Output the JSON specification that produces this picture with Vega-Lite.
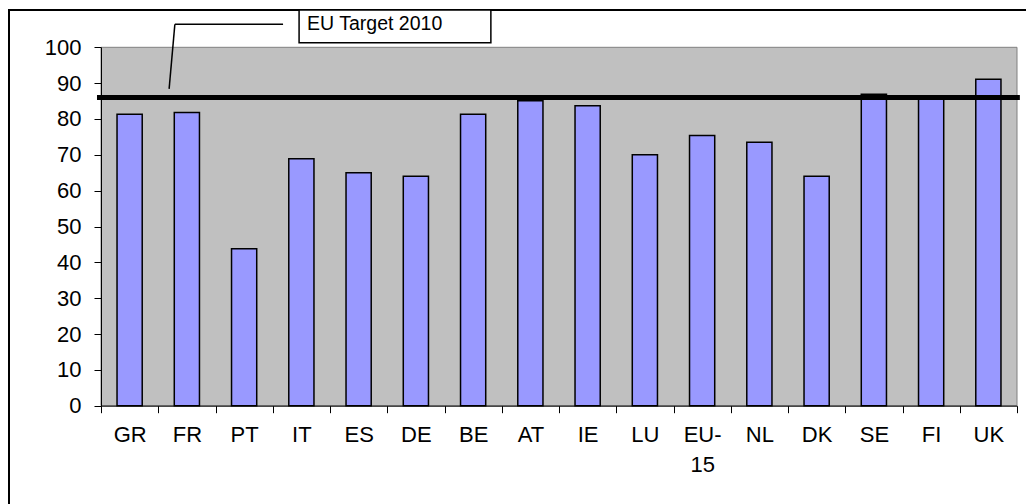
{
  "$schema": "https://vega.github.io/schema/vega-lite/v6.json",
  "autosize": "none",
  "width": 1019,
  "height": 496,
  "padding": {"left": 9, "top": 10, "right": -2, "bottom": -2},
  "background": "white",
  "config": {
    "view": {"stroke": "black", "strokeWidth": 2, "fill": "white"},
    "font": "Liberation Sans"
  },
  "data": {
    "values": [
      {"country": "GR", "value": 81.3},
      {"country": "FR", "value": 81.8},
      {"country": "PT", "value": 43.8},
      {"country": "IT", "value": 68.9},
      {"country": "ES", "value": 65.0},
      {"country": "DE", "value": 64.0},
      {"country": "BE", "value": 81.3},
      {"country": "AT", "value": 85.1},
      {"country": "IE", "value": 83.7},
      {"country": "LU", "value": 70.0},
      {"country": "EU-15", "value": 75.4},
      {"country": "NL", "value": 73.5},
      {"country": "DK", "value": 64.0},
      {"country": "SE", "value": 86.9},
      {"country": "FI", "value": 85.8},
      {"country": "UK", "value": 91.1}
    ]
  },
  "layer": [
    {
      "data": {"values": [{}]},
      "mark": {"type": "rect", "fill": "#C0C0C0", "stroke": "#808080", "strokeWidth": 1},
      "encoding": {
        "x": {"datum": 0, "type": "quantitative", "scale": {"domain": [0, 16], "range": [92, 1008], "nice": false, "zero": false}, "axis": null},
        "x2": {"datum": 16},
        "y": {"datum": 0, "type": "quantitative", "title": null,
              "scale": {"domain": [0, 100], "range": [395.7, 37.3], "nice": false, "zero": false},
              "axis": {"values": [0, 10, 20, 30, 40, 50, 60, 70, 80, 90, 100], "offset": -92, "domainColor": "black", "domainWidth": 1, "tickColor": "black", "tickSize": 7, "labelFontSize": 22, "labelColor": "black", "labelPadding": 13, "grid": false, "title": null, "zindex": 1, "labelFont": "Liberation Sans"}},
        "y2": {"datum": 100}
      }
    },
    {
      "mark": {"type": "bar", "fill": "#9999FF", "stroke": "black", "strokeWidth": 1.5, "width": {"band": 0.44}},
      "encoding": {
        "x": {"field": "country", "type": "nominal", "sort": null, "title": null,
              "scale": {"range": [92, 1008], "paddingInner": 0, "paddingOuter": 0},
              "axis": {"orient": "bottom", "offset": -100.3, "tickBand": "extent", "domainColor": "black", "tickColor": "black", "tickSize": 7, "labelFontSize": 22, "labelColor": "black", "labelAngle": 0, "labelPadding": 12, "labelLineHeight": 30, "labelExpr": "datum.label == 'EU-15' ? ['EU-', '15'] : datum.label", "title": null, "zindex": 1, "labelFont": "Liberation Sans", "labelOverlap": false}},
        "y": {"field": "value", "type": "quantitative", "title": null}
      }
    },
    {
      "data": {"values": [{}]},
      "mark": {"type": "rule", "color": "black", "strokeWidth": 5},
      "encoding": {
        "x": {"datum": -0.07, "type": "quantitative", "scale": {"domain": [0, 16], "range": [92, 1008], "nice": false, "zero": false}, "axis": null},
        "x2": {"datum": 16.05},
        "y": {"datum": 86, "type": "quantitative", "title": null}
      }
    },
    {
      "data": {"values": [{}]},
      "mark": {"type": "rule", "color": "black", "strokeWidth": 1.5},
      "encoding": {
        "x": {"datum": 3.18, "type": "quantitative", "scale": {"domain": [0, 16], "range": [92, 1008], "nice": false, "zero": false}, "axis": null},
        "x2": {"datum": 1.29},
        "y": {"datum": 106.4, "type": "quantitative", "title": null},
        "y2": {"datum": 106.4}
      }
    },
    {
      "data": {"values": [{}]},
      "mark": {"type": "rule", "color": "black", "strokeWidth": 1.5},
      "encoding": {
        "x": {"datum": 1.29, "type": "quantitative", "scale": {"domain": [0, 16], "range": [92, 1008], "nice": false, "zero": false}, "axis": null},
        "x2": {"datum": 1.19},
        "y": {"datum": 106.4, "type": "quantitative", "title": null},
        "y2": {"datum": 88.4}
      }
    },
    {
      "data": {"values": [{}]},
      "mark": {"type": "rect", "fill": "white", "stroke": "black", "strokeWidth": 1.5},
      "encoding": {
        "x": {"datum": 3.46, "type": "quantitative", "scale": {"domain": [0, 16], "range": [92, 1008], "nice": false, "zero": false}, "axis": null},
        "x2": {"datum": 6.81},
        "y": {"datum": 110.4, "type": "quantitative", "title": null},
        "y2": {"datum": 101.3}
      }
    },
    {
      "data": {"values": [{"label": "EU Target 2010"}]},
      "mark": {"type": "text", "align": "left", "baseline": "middle", "fontSize": 19.5, "color": "black", "font": "Liberation Sans"},
      "encoding": {
        "x": {"datum": 3.6, "type": "quantitative", "scale": {"domain": [0, 16], "range": [92, 1008], "nice": false, "zero": false}, "axis": null},
        "y": {"datum": 106.6, "type": "quantitative", "title": null},
        "text": {"field": "label"}
      }
    }
  ],
  "resolve": {"scale": {"x": "independent"}, "axis": {"x": "independent"}}
}
